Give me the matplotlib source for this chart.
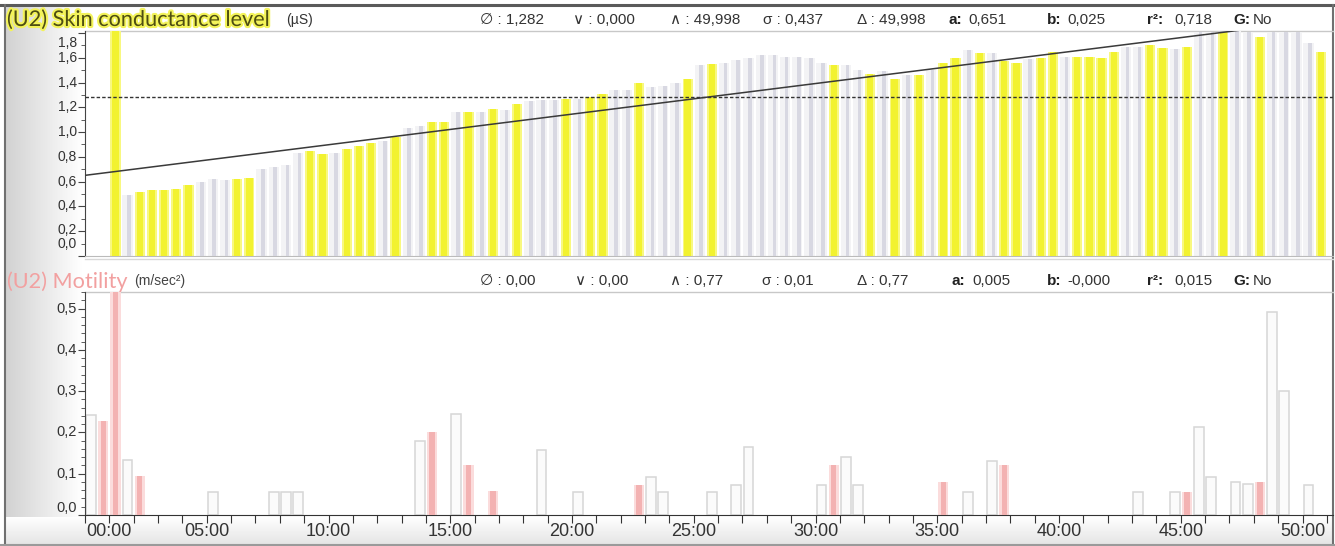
import numpy as np
import matplotlib
matplotlib.use('Agg')
import matplotlib.pyplot as plt
import matplotlib.patheffects as pe
from matplotlib.colors import LinearSegmentedColormap
from matplotlib.ticker import MultipleLocator

# ---------------- data ----------------
BIN_MIN = 0.5  # each bar = 30 s

# Skin conductance level (uS), one value per 30-s bin starting at bin 2 (01:00)
scl_first_bin = 2
scl_values = [
    1.90, 0.49, 0.515, 0.53, 0.535, 0.54, 0.57, 0.60, 0.62, 0.615, 0.62, 0.63,
    0.70, 0.715, 0.735, 0.835, 0.845, 0.825, 0.835, 0.86, 0.885, 0.91, 0.93, 0.96,
    1.03, 1.05, 1.08, 1.08, 1.165, 1.165, 1.165, 1.185, 1.18, 1.23, 1.25, 1.26,
    1.26, 1.27, 1.27, 1.285, 1.31, 1.34, 1.34, 1.40, 1.36, 1.37, 1.40, 1.43,
    1.54, 1.55, 1.555, 1.58, 1.595, 1.62, 1.62, 1.61, 1.61, 1.60, 1.56, 1.54,
    1.54, 1.50, 1.47, 1.49, 1.43, 1.46, 1.46, 1.50, 1.555, 1.60, 1.66, 1.64,
    1.64, 1.57, 1.555, 1.59, 1.60, 1.65, 1.61, 1.61, 1.61, 1.60, 1.65,
    1.69, 1.69, 1.70, 1.68, 1.67, 1.69, 1.81, 1.81, 1.81, 1.82, 1.81, 1.77,
    1.81, 1.81, 1.81, 1.72, 1.65,
]
scl_colors = ("YGYYYYYGGGYY" "GGGGYYGYYYGY" "GGYYGYGYGYGG" "GYGYYGGYGGGY"
              "GYGGGGGGGGGY" "GGYGYGYGYYGY" "GYYGYYGYYYY" "GGYYGYGGYGGYGGGGY")

scl_mean = 1.282
scl_a, scl_b = 0.651, 0.0247

scl_stats = [("∅ : 1,282", 480), ("∨ : 0,000", 573), ("∧ : 49,998", 670),
             ("σ : 0,437", 763), ("Δ : 49,998", 857)]
scl_fit = [("a:", "0,651", 948), ("b:", "0,025", 1047), ("r²:", "0,718", 1147), ("G:", "No", 1233)]

# Motility (m/sec^2), sparse 30-s bins
mot_bins = [0, 1, 2, 3, 4, 10, 15, 16, 17, 27, 28, 30, 31, 33, 37, 40, 45, 46, 47,
            51, 53, 54, 60, 61, 62, 63, 70, 72, 74, 75, 86, 89, 90, 91, 92, 94, 95,
            96, 97, 98, 100]
mot_values = [0.242, 0.228, 0.77, 0.133, 0.094, 0.056, 0.056, 0.056, 0.056, 0.18, 0.202,
              0.245, 0.121, 0.059, 0.157, 0.056, 0.073, 0.093, 0.056,
              0.056, 0.073, 0.165, 0.073, 0.121, 0.141, 0.073, 0.081, 0.056, 0.13, 0.121,
              0.056, 0.056, 0.056, 0.214, 0.093, 0.081, 0.075, 0.081, 0.492, 0.30, 0.073]
mot_colors = "GRRGRGGGGGRGRRGGRGGGGGGRGGRGGRGGRGGGGRGGG"

mot_stats = [("∅ : 0,00", 480), ("∨ : 0,00", 575), ("∧ : 0,77", 670),
             ("σ : 0,01", 762), ("Δ : 0,77", 857)]
mot_fit = [("a:", "0,005", 952), ("b:", "-0,000", 1047), ("r²:", "0,015", 1147), ("G:", "No", 1233)]

x_labels = ["00:00", "05:00", "10:00", "15:00", "20:00", "25:00",
            "30:00", "35:00", "40:00", "45:00", "50:00"]

# ---------------- figure ----------------
W, H = 1335, 546
fig = plt.figure(figsize=(W / 100, H / 100), dpi=100)
fig.patch.set_facecolor('white')


def fx(px):
    return px / W


def fy(py):
    return 1 - py / H


FONT = ['Liberation Sans', 'DejaVu Sans']

bg = fig.add_axes([0, 0, 1, 1], zorder=-10)
bg.set_xlim(0, W)
bg.set_ylim(H, 0)
bg.axis('off')
cm_h = LinearSegmentedColormap.from_list('h', ['#d2d2d2', '#ffffff'])
bg.imshow(np.linspace(0, 1, 256)[None, :], extent=(6, 82, H, 5), cmap=cm_h, aspect='auto')
cm_v = LinearSegmentedColormap.from_list('v', ['#ffffff', '#e4e4e4'])
bg.imshow(np.linspace(0, 1, 64)[:, None], extent=(6, W - 2, H - 1, 517), cmap=cm_v, aspect='auto')
# frame
bg.plot([0, W], [5, 5], color='#5a5a5a', lw=2.2)
bg.plot([5, 5], [5, H], color='#707070', lw=1.5)
bg.plot([W - 2, W - 2], [5, H], color='#707070', lw=1.5)
bg.plot([0, W], [H - 1, H - 1], color='#9a9a9a', lw=1.5)
# header separators
bg.plot([85, W - 2], [30.5, 30.5], color='#c8c8c8', lw=1)
bg.plot([85, W - 2], [292, 292], color='#c8c8c8', lw=1)
bg.plot([85, W - 2], [259, 259], color='#d8d8d8', lw=1)

XMAX = (W - 2 - 85) / 24.35

# -------- top panel --------
ax1 = fig.add_axes([fx(85), fy(256), (W - 2 - 85) / W, (256 - 31) / H])
ax1.set_xlim(0, XMAX)
ax1.set_ylim(0, 1.816)
ax1.set_facecolor('none')

scl_t = (np.arange(len(scl_values)) + scl_first_bin) * BIN_MIN + BIN_MIN / 2
for t, v, c in zip(scl_t, scl_values, scl_colors):
    if c == 'Y':
        ax1.bar(t, v, width=0.42, color='#f8f880', lw=0, zorder=2)
        ax1.bar(t, v, width=0.26, color='#f2f230', lw=0, zorder=3)
    else:
        ax1.bar(t, v, width=0.42, color='#f3f3f5', lw=0, zorder=2)
        ax1.bar(t + 0.06, v, width=0.15, color='#d8d8e2', lw=0, zorder=3)

ax1.axhline(scl_mean, color='#333333', lw=1, ls=(0, (2.5, 1.5)), zorder=5)
tt = np.array([0, XMAX])
ax1.plot(tt, scl_a + scl_b * tt, color='#3a3a3a', lw=1.1, zorder=6)

for s in ['top', 'right']:
    ax1.spines[s].set_visible(False)
ax1.spines['bottom'].set_color('#bbbbbb')
ax1.spines['left'].set_color('#444444')
ax1.set_xticks([])
ax1.yaxis.set_major_locator(MultipleLocator(0.2))
ax1.yaxis.set_minor_locator(MultipleLocator(0.1))
ax1.tick_params(axis='y', which='major', length=5, color='#444444', labelleft=False)
ax1.tick_params(axis='y', which='minor', length=3, color='#444444')
for v in np.arange(0, 1.81, 0.2):
    dy = 0
    if v > 1.75:
        dy = -10
    elif v < 0.05:
        dy = 12
    elif v < 0.25:
        dy = 1
    ax1.annotate(f"{v:.1f}".replace('.', ','), xy=(0, v), xycoords=('axes fraction', 'data'),
                 xytext=(-8, dy), textcoords='offset pixels', ha='right', va='center',
                 fontsize=10, color='#333333', family=FONT)

# -------- bottom panel --------
ax2 = fig.add_axes([fx(85), fy(515), (W - 2 - 85) / W, (515 - 292) / H])
ax2.set_xlim(0, XMAX)
ax2.set_ylim(0, 0.54)
ax2.set_facecolor('none')

for b, v, c in zip(mot_bins, mot_values, mot_colors):
    t = b * BIN_MIN + BIN_MIN / 2
    if c == 'R':
        ax2.bar(t, v, width=0.42, color='#fbdcdc', lw=0, zorder=2)
        ax2.bar(t, v, width=0.22, color='#f3b2b2', lw=0, zorder=3)
    else:
        ax2.bar(t, v, width=0.40, color='#fbfbfb', edgecolor='#d6d6d6', lw=1.1, zorder=2)

for s in ['top', 'right']:
    ax2.spines[s].set_visible(False)
ax2.spines['bottom'].set_color('#333333')
ax2.spines['left'].set_color('#444444')
ax2.yaxis.set_major_locator(MultipleLocator(0.1))
ax2.yaxis.set_minor_locator(MultipleLocator(0.02))
ax2.tick_params(axis='y', which='major', length=5, color='#444444', labelleft=False)
ax2.tick_params(axis='y', which='minor', length=3, color='#444444')
for v in np.arange(0, 0.51, 0.1):
    dy = 7 if v < 0.05 else 0
    ax2.annotate(f"{v:.1f}".replace('.', ','), xy=(0, v), xycoords=('axes fraction', 'data'),
                 xytext=(-8, dy), textcoords='offset pixels', ha='right', va='center',
                 fontsize=10.5, color='#333333', family=FONT)

ax2.xaxis.set_major_locator(MultipleLocator(1))
ax2.tick_params(axis='x', which='major', length=6, color='#333333', labelbottom=False, direction='out')
for i, lab in enumerate(x_labels):
    dx = 24 if i == 0 else 0
    ax2.annotate(lab, xy=(i * 5, 0), xycoords=('data', 'axes fraction'),
                 xytext=(dx, -17), textcoords='offset pixels', ha='center', va='center',
                 fontsize=13, color='#333333', family=FONT)

# -------- headers --------
fig.text(fx(7), fy(20), "(U2) Skin conductance level", fontsize=15.6, family='Lato',
         color='#4e4e12', va='center', ha='left',
         path_effects=[pe.withStroke(linewidth=3, foreground='#f3f35a')])
fig.text(fx(286), fy(20), "(µS)", fontsize=10, family=FONT, color='#333333', va='center')
fig.text(fx(7), fy(282), "(U2) Motility", fontsize=15.6, family='Lato',
         color='#f2a0a0', va='center', ha='left')
fig.text(fx(134), fy(281), "(m/sec²)", fontsize=10, family=FONT, color='#444444', va='center')


def stats_row(stats, fit, y):
    for txt, x in stats:
        fig.text(fx(x), fy(y), txt, fontsize=11, family=FONT, color='#333333', va='center')
    for lab, val, x in fit:
        fig.text(fx(x), fy(y), lab, fontsize=11, family=FONT, color='#222222',
                 weight='bold', va='center')
        fig.text(fx(x + 6 + 7 * len(lab)), fy(y), val, fontsize=11, family=FONT,
                 color='#333333', va='center')


stats_row(scl_stats, scl_fit, 20)
stats_row(mot_stats, mot_fit, 281)

fig.savefig('out.png', dpi=100)
